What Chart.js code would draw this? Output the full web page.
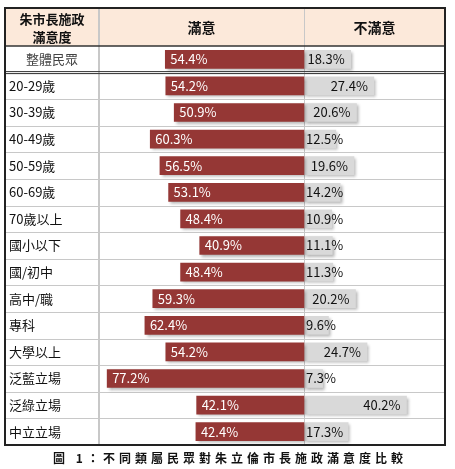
<!DOCTYPE html>
<html>
<head>
<meta charset="utf-8">
<script src="https://cdn.jsdelivr.net/npm/chart.js@4"></script>
<style>
  body { margin: 0; background: #fff; }
  #wrap { width: 455px; height: 469px; position: relative; }
</style>
</head>
<body>
<div id="wrap"><canvas id="chart" width="455" height="469"></canvas></div>
<script>
const categories = ["整體民眾", "20-29歲", "30-39歲", "40-49歲", "50-59歲", "60-69歲", "70歲以上",
  "國小以下", "國/初中", "高中/職", "專科", "大學以上", "泛藍立場", "泛綠立場", "中立立場"];
const satisfied = [54.4, 54.2, 50.9, 60.3, 56.5, 53.1, 48.4, 40.9, 48.4, 59.3, 62.4, 54.2, 77.2, 42.1, 42.4];
const dissatisfied = [18.3, 27.4, 20.6, 12.5, 19.6, 14.2, 10.9, 11.1, 11.3, 20.2, 9.6, 24.7, 7.3, 40.2, 17.3];
const headers = ["朱市長施政", "滿意度", "滿意", "不滿意"];
const caption = "圖 1：不同類屬民眾對朱立倫市長施政滿意度比較";

const FONT = '"Noto Sans CJK TC", "Noto Sans", sans-serif';
const T = 8, B = 445, L = 5, R = 445, HEAD = 46, COL = 99;

// table frame, header, grid lines and texts
const tablePlugin = {
  id: "table",
  beforeDraw(chart) {
    const c = chart.ctx, y = chart.scales.y, x = chart.scales.x;
    const cx = x.getPixelForValue(0);
    c.save();
    c.fillStyle = "#fff";
    c.fillRect(0, 0, 455, 469);
    c.fillStyle = "#fce9da";
    c.fillRect(L, T, R - L, HEAD - T);
    // row lines
    const step = (B - HEAD) / categories.length;
    c.strokeStyle = "#c8c8c8";
    c.lineWidth = 1;
    for (let i = 1; i < categories.length; i++) {
      const yy = Math.round(HEAD + i * step) + 0.5;
      c.beginPath(); c.moveTo(L, yy); c.lineTo(R, yy); c.stroke();
    }
    // vertical lines
    c.lineWidth = 2;
    c.beginPath(); c.moveTo(COL, T); c.lineTo(COL, B); c.stroke();
    c.lineWidth = 1;
    c.beginPath(); c.moveTo(Math.round(cx) + 0.5, T); c.lineTo(Math.round(cx) + 0.5, B); c.stroke();
    // header bottom and double line after first row
    c.strokeStyle = "#333";
    c.lineWidth = 1.5;
    c.beginPath(); c.moveTo(L, HEAD); c.lineTo(R, HEAD); c.stroke();
    const y1 = HEAD + step;
    c.lineWidth = 1;
    c.beginPath(); c.moveTo(L, y1 - 1); c.lineTo(R, y1 - 1); c.stroke();
    c.beginPath(); c.moveTo(L, y1 + 1); c.lineTo(R, y1 + 1); c.stroke();
    // outer frame
    c.strokeStyle = "#222";
    c.lineWidth = 2;
    c.strokeRect(L, T, R - L, B - T);
    // header text
    c.fillStyle = "#111";
    c.textAlign = "center";
    c.textBaseline = "middle";
    c.font = "bold 13px " + FONT;
    c.fillText(headers[0], (L + COL) / 2, 19);
    c.fillText(headers[1], (L + COL) / 2, 37);
    c.font = "bold 14px " + FONT;
    c.fillText(headers[2], (COL + cx) / 2, 28);
    c.fillText(headers[3], (cx + R) / 2, 28);
    // category labels
    c.font = "13px " + FONT;
    categories.forEach((cat, i) => {
      const yy = y.getPixelForValue(i);
      if (i === 0) {
        c.textAlign = "center";
        c.fillStyle = "#444";
        c.fillText(cat, (L + COL) / 2, yy);
      } else {
        c.textAlign = "left";
        c.fillStyle = "#111";
        c.fillText(cat, 9, yy);
      }
    });
    c.restore();
  },
  afterDatasetsDraw(chart) {
    const c = chart.ctx, x = chart.scales.x, y = chart.scales.y;
    const cx = x.getPixelForValue(0);
    c.save();
    c.font = "13px " + FONT;
    c.textBaseline = "middle";
    categories.forEach((cat, i) => {
      const yy = y.getPixelForValue(i);
      c.fillStyle = "#fff";
      c.textAlign = "left";
      c.fillText(satisfied[i].toFixed(1) + "%", x.getPixelForValue(-satisfied[i]) + 5, yy);
      const t = dissatisfied[i].toFixed(1) + "%";
      const w = c.measureText(t).width;
      const end = x.getPixelForValue(dissatisfied[i]);
      c.fillStyle = "#111";
      c.fillText(t, Math.max(cx + 2, end - w - 6), yy);
    });
    c.restore();
  }
};

const shadowPlugin = {
  id: "shadow",
  beforeDatasetDraw(chart) {
    const c = chart.ctx;
    c.save();
    c.shadowColor = "rgba(0,0,0,0.3)";
    c.shadowBlur = 3;
    c.shadowOffsetX = 2;
    c.shadowOffsetY = 2;
  },
  afterDatasetDraw(chart) { chart.ctx.restore(); }
};

new Chart(document.getElementById("chart"), {
  type: "bar",
  data: {
    labels: categories,
    datasets: [
      { data: satisfied.map(v => [-v, 0]), backgroundColor: "#953735", barThickness: 18 },
      { data: dissatisfied.map(v => [0, v]), backgroundColor: "#d9d9d9", barThickness: 18 }
    ]
  },
  options: {
    indexAxis: "y",
    responsive: false,
    animation: false,
    layout: { padding: { left: COL, right: 455 - R, top: HEAD, bottom: 469 - B } },
    plugins: { legend: { display: false }, tooltip: { enabled: false },
      title: { display: false } },
    scales: {
      x: { display: false, min: -80.4, max: 55.3 },
      y: { display: false, grouped: false, stacked: true }
    }
  },
  plugins: [tablePlugin, shadowPlugin, {
    id: "caption",
    afterDraw(chart) {
      const c = chart.ctx;
      c.save();
      c.font = "bold 12px " + FONT;
      c.fillStyle = "#111";
      c.textAlign = "center";
      c.textBaseline = "middle";
      if ("letterSpacing" in c) c.letterSpacing = "4px";
      c.fillText(caption, 230, 458);
      c.restore();
    }
  }]
});
</script>
</body>
</html>
